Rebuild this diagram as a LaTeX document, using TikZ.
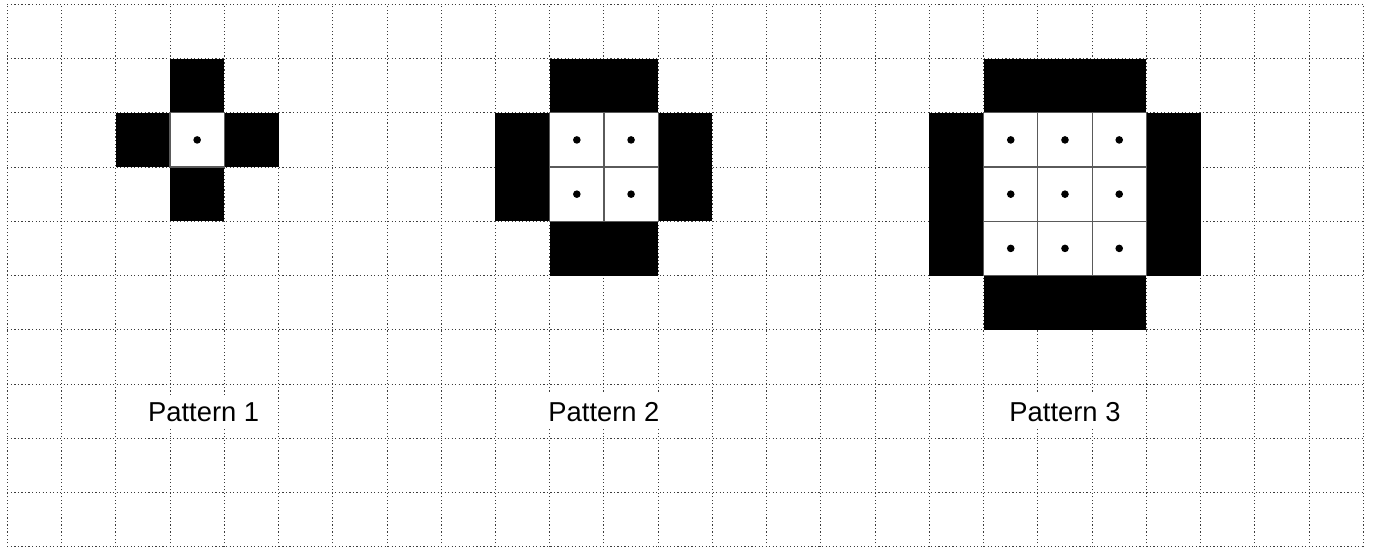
\documentclass[tikz,border=0pt]{standalone}
\usepackage{fontspec}
\setmainfont{Liberation Sans}
\usepackage{tikz}
\definecolor{gridgray}{RGB}{60,60,60}
\definecolor{cellgray}{RGB}{90,90,90}
% one pattern: white n x n block with lower left corner (#1,#2), black strips round it
\newcommand{\patblock}[3]{%
  \fill[black] (#1,#2+#3) rectangle ++(#3,1);
  \fill[black] (#1,#2-1) rectangle ++(#3,1);
  \fill[black] (#1-1,#2) rectangle ++(1,#3);
  \fill[black] (#1+#3,#2) rectangle ++(1,#3);
  \foreach \i in {1,...,#3}{
    \foreach \j in {1,...,#3}{
      \draw[cellbox] (#1+\i-1,#2+\j-1) rectangle ++(1,1);
      \fill (#1+\i-0.5,#2+\j-0.5) circle (0.07);
    }
  }%
}

\begin{document}
\begin{tikzpicture}[
x=1cm,y=1cm,
gridline/.style={gridgray,line width=0.5pt,dash pattern=on 0.6pt off 1.25pt},
cellbox/.style={draw=cellgray,fill=white,line width=0.6pt},
lbl/.style={anchor=base,fill=white,inner xsep=1pt,inner ysep=4pt,font=\fontsize{14.35}{17}\selectfont}
]
\useasboundingbox (-0.135,-0.06) rectangle (25.179,10.08);
\fill[white] (-0.135,-0.06) rectangle (25.179,10.08);
% background grid
\foreach \x in {0,...,25} \draw[gridline] (\x,0) -- (\x,10);
\foreach \y in {0,...,10} \draw[gridline] (0,\y) -- (25,\y);
% patterns
\patblock{3}{7}{1}
\patblock{10}{6}{2}
\patblock{18}{5}{3}
% labels
\node[lbl] (p1) at (3.62,2.315) {Pattern 1};
\node[lbl] (p2) at (11,2.315) {Pattern 2};
\node[lbl] (p3) at (19.5,2.315) {Pattern 3};
\end{tikzpicture}
\end{document}
